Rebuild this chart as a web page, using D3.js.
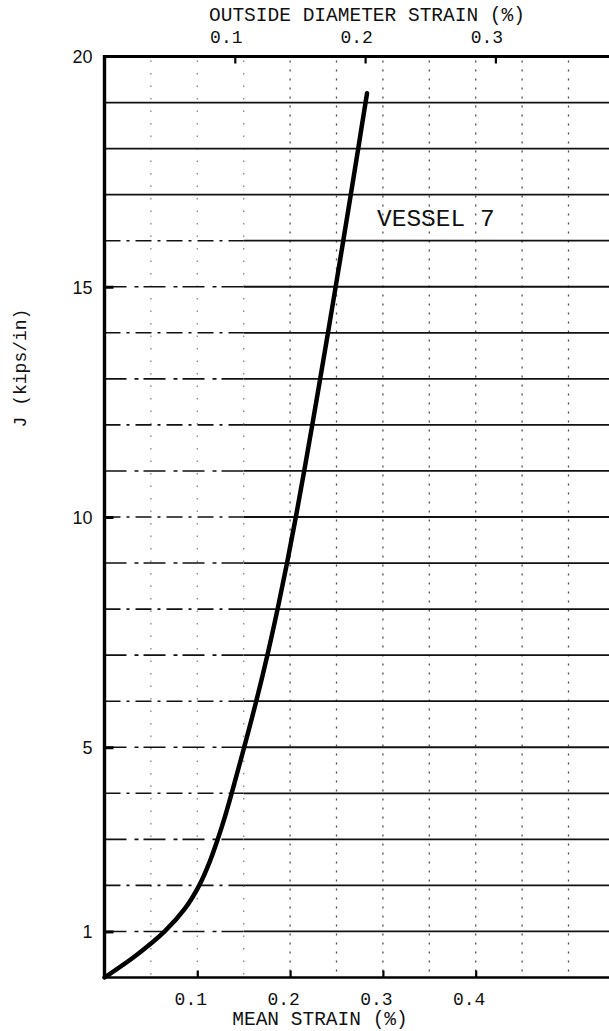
<!DOCTYPE html>
<html>
<head>
<meta charset="utf-8">
<script src="https://cdn.jsdelivr.net/npm/d3@7"></script>
<style>
  html, body { margin: 0; padding: 0; background: #fff; }
  svg { display: block; }
  .mono { font-family: "Courier New", "Liberation Mono", monospace; fill: #111; }
  .sans { font-family: "Liberation Sans", Arial, sans-serif; fill: #111; }
</style>
</head>
<body>
<svg id="chart" width="609" height="1031"></svg>
<script>
// Load–strain record: J (kips/in) against mean strain (%)
const meanStrain = [0, 0.0353, 0.0648, 0.0868, 0.1021, 0.1131, 0.1220, 0.1299, 0.1370,
                    0.1505, 0.1635, 0.1755, 0.1865, 0.1967, 0.2062, 0.2152, 0.2239, 0.2324,
                    0.2408, 0.2491, 0.2573, 0.2654, 0.2734, 0.2813, 0.2829];
const jLoad      = [0, 0.5, 1, 1.5, 2, 2.5, 3, 3.5, 4,
                    5, 6, 7, 8, 9, 10, 11, 12, 13,
                    14, 15, 16, 17, 18, 19, 19.2];

// Axis ticks and labels
const jTicks        = [20, 15, 10, 5, 1];
const jGridLines    = [1, 2, 3, 4, 5, 6, 7, 8, 9, 10, 11, 12, 13, 14, 15, 16, 17, 18, 19];
const meanTicks     = [0.1, 0.2, 0.3, 0.4];
const odTicks       = [0.1, 0.2, 0.3];
const strainGrid    = [0.05, 0.10, 0.15, 0.20, 0.25, 0.30, 0.35, 0.40, 0.45, 0.50];

const labelTopAxis    = "OUTSIDE DIAMETER STRAIN (%)";
const labelBottomAxis = "MEAN STRAIN (%)";
const labelLeftAxis   = "J (kips/in)";
const labelVessel     = "VESSEL 7";

const svg = d3.select("#chart");

const plotL = 104.5, plotR = 612, plotT = 56.5, plotB = 977.5;
const meanMax = (plotR - plotL) / 928;          // 0.1 % mean strain per 92.8 px
const odMax = (plotR - plotL) / 1303;           // 0.1 % OD strain per 130.3 px

const x = d3.scaleLinear().domain([0, meanMax]).range([plotL, plotR]);
const xTop = d3.scaleLinear().domain([0, odMax]).range([plotL, plotR]);
const y = d3.scaleLinear().domain([0, 20]).range([plotB, plotT]);

// Vertical dotted grid
svg.append("g").selectAll("line").data(strainGrid).join("line")
  .attr("x1", d => x(d)).attr("x2", d => x(d))
  .attr("y1", y(20) + 4).attr("y2", y(0) - 2)
  .attr("stroke", "#222").attr("stroke-width", 1.3)
  .attr("stroke-dasharray", (d, i) => i < 3 ? "1.5,11" : "2,7")
  .attr("opacity", (d, i) => i < 3 ? 0.55 : 0.8);

// Horizontal grid: broken on the left, solid to the right
const dashEnd = 0.15;
const gridG = svg.append("g");
gridG.selectAll("line.solid").data(jGridLines).join("line")
  .attr("class", "solid")
  .attr("x1", d => d >= 17 ? x(0) : x(dashEnd)).attr("x2", x(meanMax))
  .attr("y1", d => y(d)).attr("y2", d => y(d))
  .attr("stroke", "#111").attr("stroke-width", 1.8);
gridG.selectAll("line.broken").data(jGridLines.filter(d => d < 17)).join("line")
  .attr("class", "broken")
  .attr("x1", x(0)).attr("x2", x(dashEnd))
  .attr("y1", d => y(d)).attr("y2", d => y(d))
  .attr("stroke", "#111").attr("stroke-width", 1.6)
  .attr("stroke-dasharray", (d, i) => i % 2 ? "16,6,3,6" : "22,8,4,5");

// Frame lines
svg.append("line").attr("x1", x(0)).attr("x2", x(meanMax))
  .attr("y1", y(20)).attr("y2", y(20))
  .attr("stroke", "#000").attr("stroke-width", 3.2);
svg.append("line").attr("x1", x(0)).attr("x2", x(meanMax))
  .attr("y1", y(0)).attr("y2", y(0))
  .attr("stroke", "#000").attr("stroke-width", 2.6);
svg.append("line").attr("x1", x(0)).attr("x2", x(0))
  .attr("y1", y(20) - 1.5).attr("y2", y(0) + 1.3)
  .attr("stroke", "#000").attr("stroke-width", 3.4);

// Left axis ticks and labels
const leftAxis = d3.axisLeft(y).tickValues(jTicks).tickSizeInner(-9).tickSizeOuter(0).tickPadding(12)
  .tickFormat(d3.format("d"));
const gLeft = svg.append("g").attr("transform", `translate(${x(0)},0)`).call(leftAxis);
gLeft.select(".domain").remove();
gLeft.selectAll(".tick line").attr("stroke", "#000").attr("stroke-width", 3)
  .attr("display", d => d === 20 ? "none" : null);
gLeft.selectAll(".tick text").attr("class", "sans").attr("font-size", 18)
  .attr("fill", "#111").attr("dy", "0.36em");

// Bottom axis (mean strain)
const bottomAxis = d3.axisBottom(x).tickValues(meanTicks).tickSizeInner(-7).tickSizeOuter(0).tickPadding(15)
  .tickFormat(d3.format(".1f"));
const gBottom = svg.append("g").attr("transform", `translate(0,${y(0)})`).call(bottomAxis);
gBottom.select(".domain").remove();
gBottom.selectAll(".tick line").attr("stroke", "#000").attr("stroke-width", 2.2);
gBottom.selectAll(".tick text").attr("class", "mono").attr("font-size", 18)
  .attr("fill", "#111").attr("dx", -7);

// Top axis (outside diameter strain)
const topAxis = d3.axisTop(xTop).tickValues(odTicks).tickSizeInner(-7).tickSizeOuter(0).tickPadding(14)
  .tickFormat(d3.format(".1f"));
const gTop = svg.append("g").attr("transform", `translate(0,${y(20)})`).call(topAxis);
gTop.select(".domain").remove();
gTop.selectAll(".tick line").attr("stroke", "#000").attr("stroke-width", 2.2);
gTop.selectAll(".tick text").attr("class", "mono").attr("font-size", 18)
  .attr("fill", "#111").attr("dx", -9);

// Axis titles
svg.append("text").attr("class", "mono").attr("font-size", 19.5)
  .attr("x", 367).attr("y", 21).attr("text-anchor", "middle").text(labelTopAxis);
svg.append("text").attr("class", "mono").attr("font-size", 19.5)
  .attr("x", 320).attr("y", 1025).attr("text-anchor", "middle").text(labelBottomAxis);
svg.append("text").attr("class", "mono").attr("font-size", 18)
  .attr("transform", "translate(26,368) rotate(-90)")
  .attr("text-anchor", "middle").text(labelLeftAxis);

// Specimen label
svg.append("text").attr("class", "mono").attr("font-size", 24.5)
  .attr("x", 377).attr("y", 226).text(labelVessel);

// Load curve
const curveData = meanStrain.map((m, i) => ({ m, j: jLoad[i] }));
const line = d3.line().x(d => x(d.m)).y(d => y(d.j)).curve(d3.curveCatmullRom.alpha(0.5));
svg.append("path").datum(curveData)
  .attr("d", line)
  .attr("fill", "none").attr("stroke", "#000").attr("stroke-width", 4.5)
  .attr("stroke-linecap", "round").attr("stroke-linejoin", "round");
</script>
</body>
</html>
